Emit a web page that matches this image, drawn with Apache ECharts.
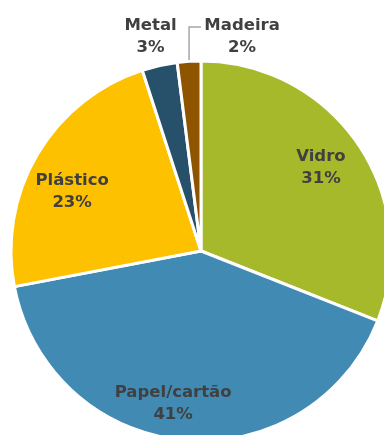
<!DOCTYPE html>
<html>
<head>
<meta charset="utf-8">
<script src="https://cdn.jsdelivr.net/npm/echarts@6/dist/echarts.min.js"></script>
<style>
  html, body { margin: 0; padding: 0; background: #fff; }
  #chart { width: 384px; height: 435px; }
</style>
</head>
<body>
<div id="chart"></div>
<script>
// Composição dos resíduos (%)
const categories = ['Vidro', 'Papel/cartão', 'Plástico', 'Metal', 'Madeira'];
const values = [31, 41, 23, 3, 2];
const colors = ['#A5B92B', '#418AB3', '#FDC100', '#27506A', '#8F5400'];
// slices whose label sits outside the pie
const outsideLabels = ['Metal', 'Madeira'];
// small nudges for the inner labels [dx, dy]
const innerNudge = { 'Vidro': [-2, 0], 'Papel/cartão': [-14, 6], 'Plástico': [-2, 16] };

const R = 190;
const center = [201, 251];
const total = values.reduce((a, b) => a + b, 0);
const labelFont = {
  fontFamily: 'DejaVu Sans',
  fontWeight: 'bold',
  fontSize: 16.5,
  lineHeight: 22,
  color: '#404040'
};

// point on the outer edge at the middle of slice i (clockwise from 12 o'clock)
function edgePoint(i) {
  let before = 0;
  for (let k = 0; k < i; k++) before += values[k];
  const a = (before + values[i] / 2) / total * Math.PI * 2;
  return [center[0] + R * Math.sin(a), center[1] - R * Math.cos(a)];
}

const chart = echarts.init(document.getElementById('chart'), null, { renderer: 'canvas' });

const sliceData = categories.map((name, i) => ({
  name,
  value: values[i],
  itemStyle: { color: colors[i] },
  label: { show: outsideLabels.includes(name) },
  labelLine: { show: name === 'Madeira' }
}));

// inner labels: an invisible, larger pie puts its "inside" labels at ~0.76 R
const labelData = categories.map((name, i) => ({
  name,
  value: values[i],
  label: { show: !outsideLabels.includes(name) }
}));

chart.setOption({
  animation: false,
  series: [
    {
      type: 'pie',
      center,
      radius: [0, R],
      startAngle: 90,
      clockwise: true,
      silent: true,
      itemStyle: { borderColor: '#ffffff', borderWidth: 3 },
      label: Object.assign({
        position: 'outside',
        overflow: 'none',
        edgeDistance: 0,
        formatter: p => p.name + '\n' + p.value + '%',
        align: 'center'
      }, labelFont),
      labelLine: {
        show: true,
        length: 10,
        length2: 10,
        lineStyle: { color: '#A6A6A6', width: 1.5 }
      },
      labelLayout: function (params) {
        const i = params.dataIndex;
        const start = edgePoint(i);
        const lineY = 27;
        if (categories[i] === 'Madeira') {
          return {
            x: start[0] + 53,
            y: lineY + 10,
            align: 'center',
            verticalAlign: 'middle',
            labelLinePoints: [start, [start[0], lineY], [start[0] + 12, lineY]]
          };
        }
        return {
          x: start[0] - 9,
          y: lineY + 10,
          align: 'center',
          verticalAlign: 'middle'
        };
      },
      data: sliceData
    },
    {
      type: 'pie',
      center,
      radius: [0, R * 1.52],
      startAngle: 90,
      clockwise: true,
      silent: true,
      z: 3,
      itemStyle: { color: 'rgba(0,0,0,0)' },
      label: Object.assign({
        position: 'inside',
        formatter: p => p.name + '\n' + p.value + '%',
        align: 'center'
      }, labelFont),
      labelLine: { show: false },
      labelLayout: function (params) {
        const n = innerNudge[categories[params.dataIndex]] || [0, 0];
        return { dx: n[0], dy: n[1] };
      },
      data: labelData
    }
  ]
});
</script>
</body>
</html>
